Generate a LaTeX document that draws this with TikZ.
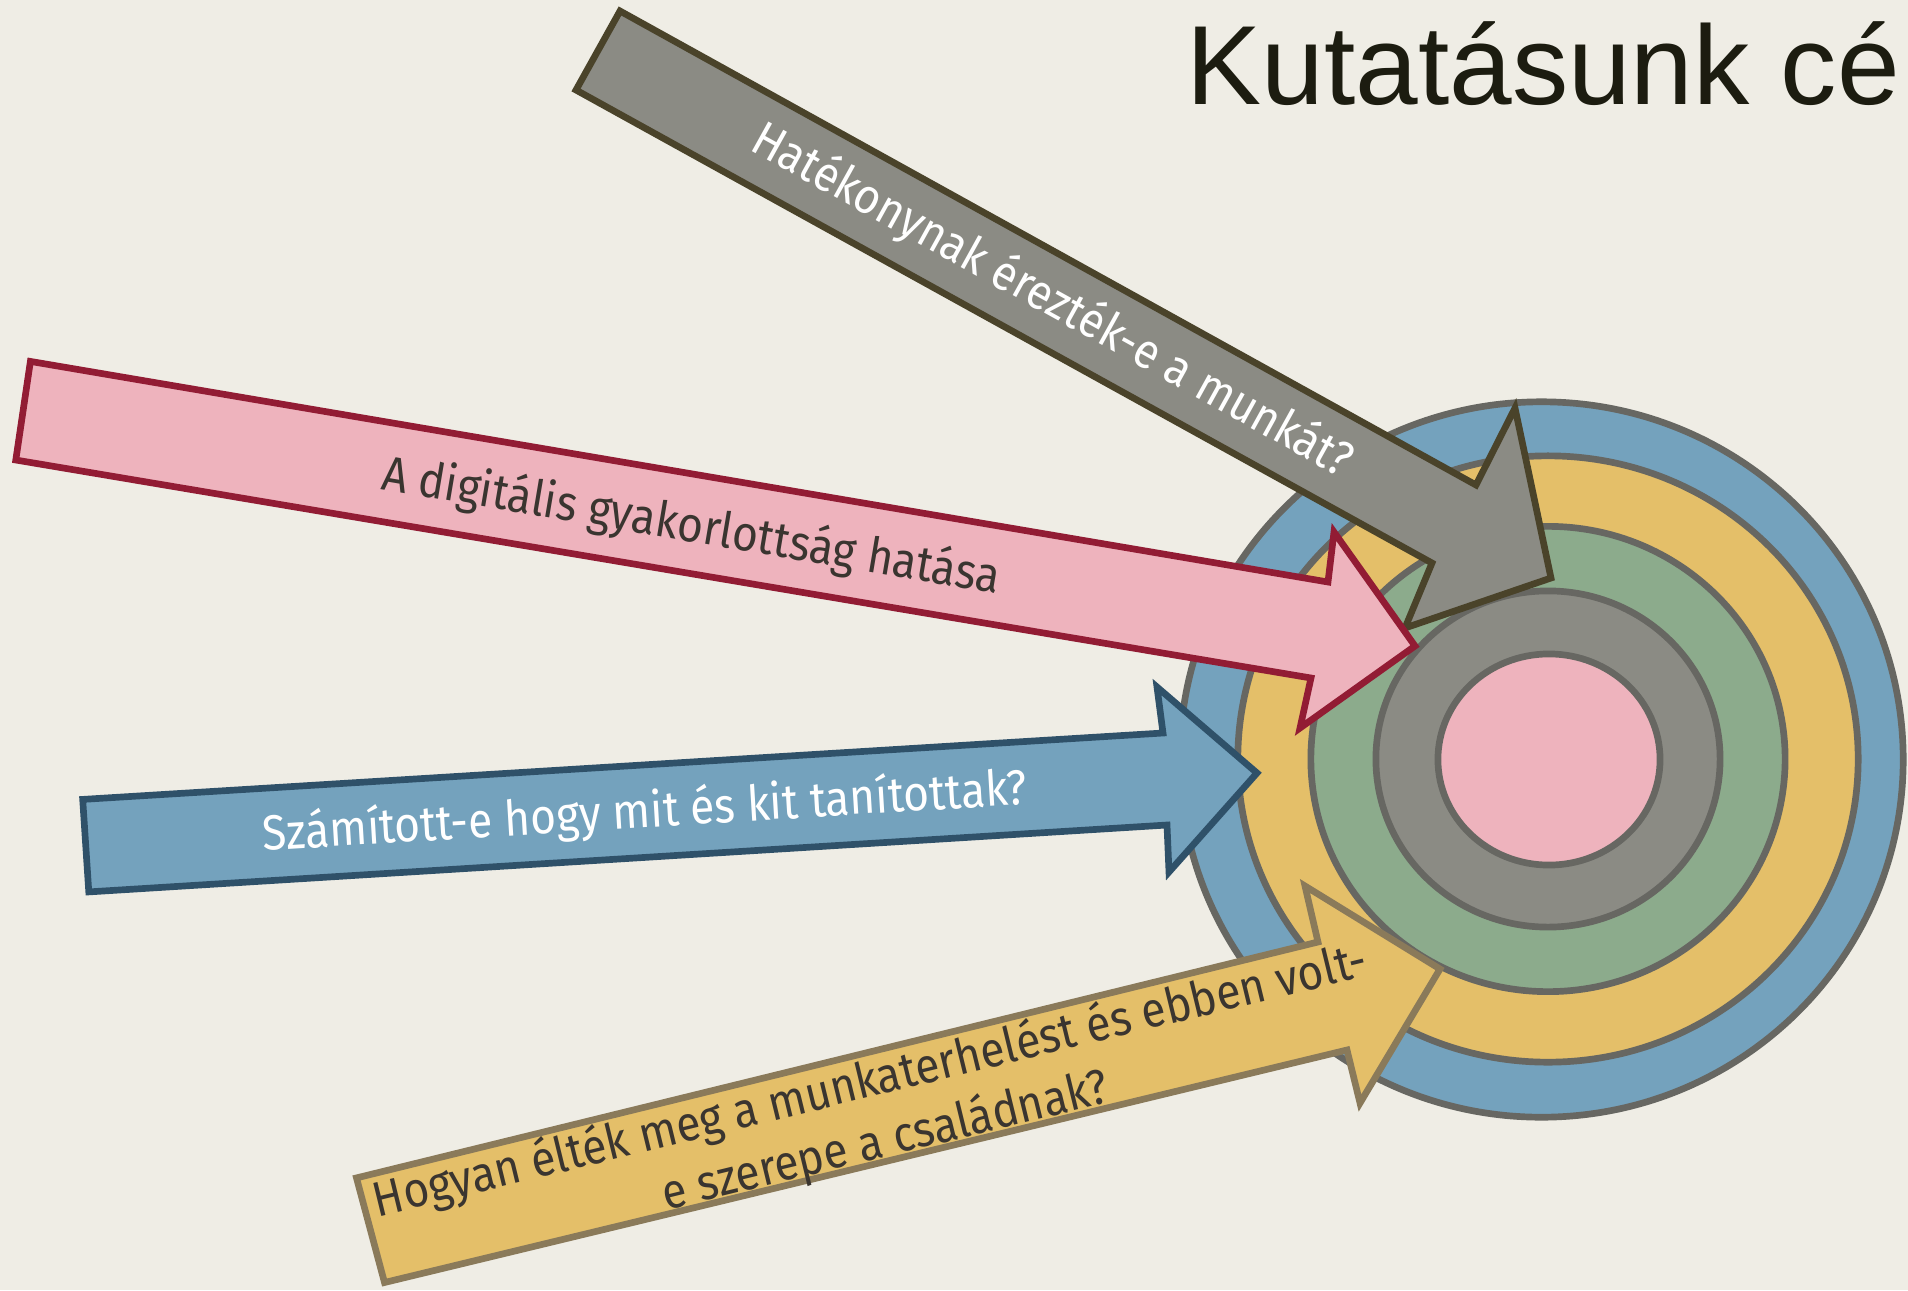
\documentclass[tikz,border=0pt]{standalone}
\usepackage{fontspec}
\setmainfont{Liberation Sans}
\newfontfamily\bodyfont[FakeStretch=0.9]{Fira Sans}

\definecolor{paper}{HTML}{EFEDE5}
\definecolor{ringline}{HTML}{676762}
\definecolor{blueband}{HTML}{74A2BD}
\definecolor{yellowband}{HTML}{E4BF69}
\definecolor{greenband}{HTML}{8CAB8C}
\definecolor{grayband}{HTML}{8B8B84}
\definecolor{pinkband}{HTML}{EEB3BD}
\definecolor{grayedge}{HTML}{4A432A}
\definecolor{pinkedge}{HTML}{921C34}
\definecolor{blueedge}{HTML}{2F5169}
\definecolor{yellowedge}{HTML}{8A7A5A}
\definecolor{darktext}{HTML}{3A3530}
\definecolor{titletext}{HTML}{1C1C10}

\begin{document}
\begin{tikzpicture}[x=0.01cm, y=-0.01cm,
    ring/.style = {draw=ringline, line width=1.9pt},
    shaft/.style = {line width=1.9pt, line join=miter},
    label/.style = {font=\bodyfont\fontsize{14pt}{17.5pt}\selectfont, inner sep=0pt, align=center}]
    \useasboundingbox[fill=paper] (0,0) rectangle (1908,1290);

    % target rings
    \draw[ring, fill=blueband] (1541.5,759.5) ellipse (3.615cm and 3.575cm);
    \draw[ring, fill=yellowband] (1548,759) ellipse (3.10cm and 3.03cm);
    \draw[ring, fill=greenband] (1548,759) ellipse (2.37cm and 2.325cm);
    \draw[ring, fill=grayband] (1548,759) ellipse (1.72cm and 1.68cm);
    \draw[ring, fill=pinkband] (1549,759.5) ellipse (1.11cm and 1.055cm);

    % arrows
    \draw[shaft, draw=grayedge, fill=grayband] (620,11) -- (1476,485) -- (1515,408) -- (1551,578)
        -- (1405,628) -- (1432,563) -- (576,90) -- cycle;
    \draw[shaft, draw=pinkedge, fill=pinkband] (30.4,361.4) -- (1328,582) -- (1334,532) -- (1415,646)
        -- (1300,728) -- (1311,678) -- (15.8,460) -- cycle;
    \draw[shaft, draw=blueedge, fill=blueband] (82.7,799.4) -- (1163,733) -- (1157,687) -- (1257,773)
        -- (1169,872) -- (1167,825) -- (88.8,891.9) -- cycle;
    \draw[shaft, draw=yellowedge, fill=yellowband] (356.5,1177.9) -- (1318,942) -- (1305,886) -- (1440,969)
        -- (1360,1103) -- (1347,1050) -- (384.5,1282.5) -- cycle;

    % texts
    \node[label, text=white, rotate=-29] (hatekony) at (1052,301) {Hatékonynak érezték-e a munkát?};
    \node[label, text=darktext, rotate=-9.6] (digitalis) at (691,527) {A digitális gyakorlottság hatása};
    \node[label, text=white, rotate=3.5] (szamitott) at (645,813) {Számított-e hogy mit és kit tanítottak?};
    \node[label, text=darktext, rotate=13.7] (terheles) at (878,1112)
        {Hogyan élték meg a munkaterhelést és ebben volt-\\e szerepe a családnak?};

    \node[anchor=base west, inner sep=0pt, text=titletext, font=\fontsize{32pt}{38pt}\selectfont]
        (cim) at (1186,104) {Kutatásunk cé};
\end{tikzpicture}
\end{document}
